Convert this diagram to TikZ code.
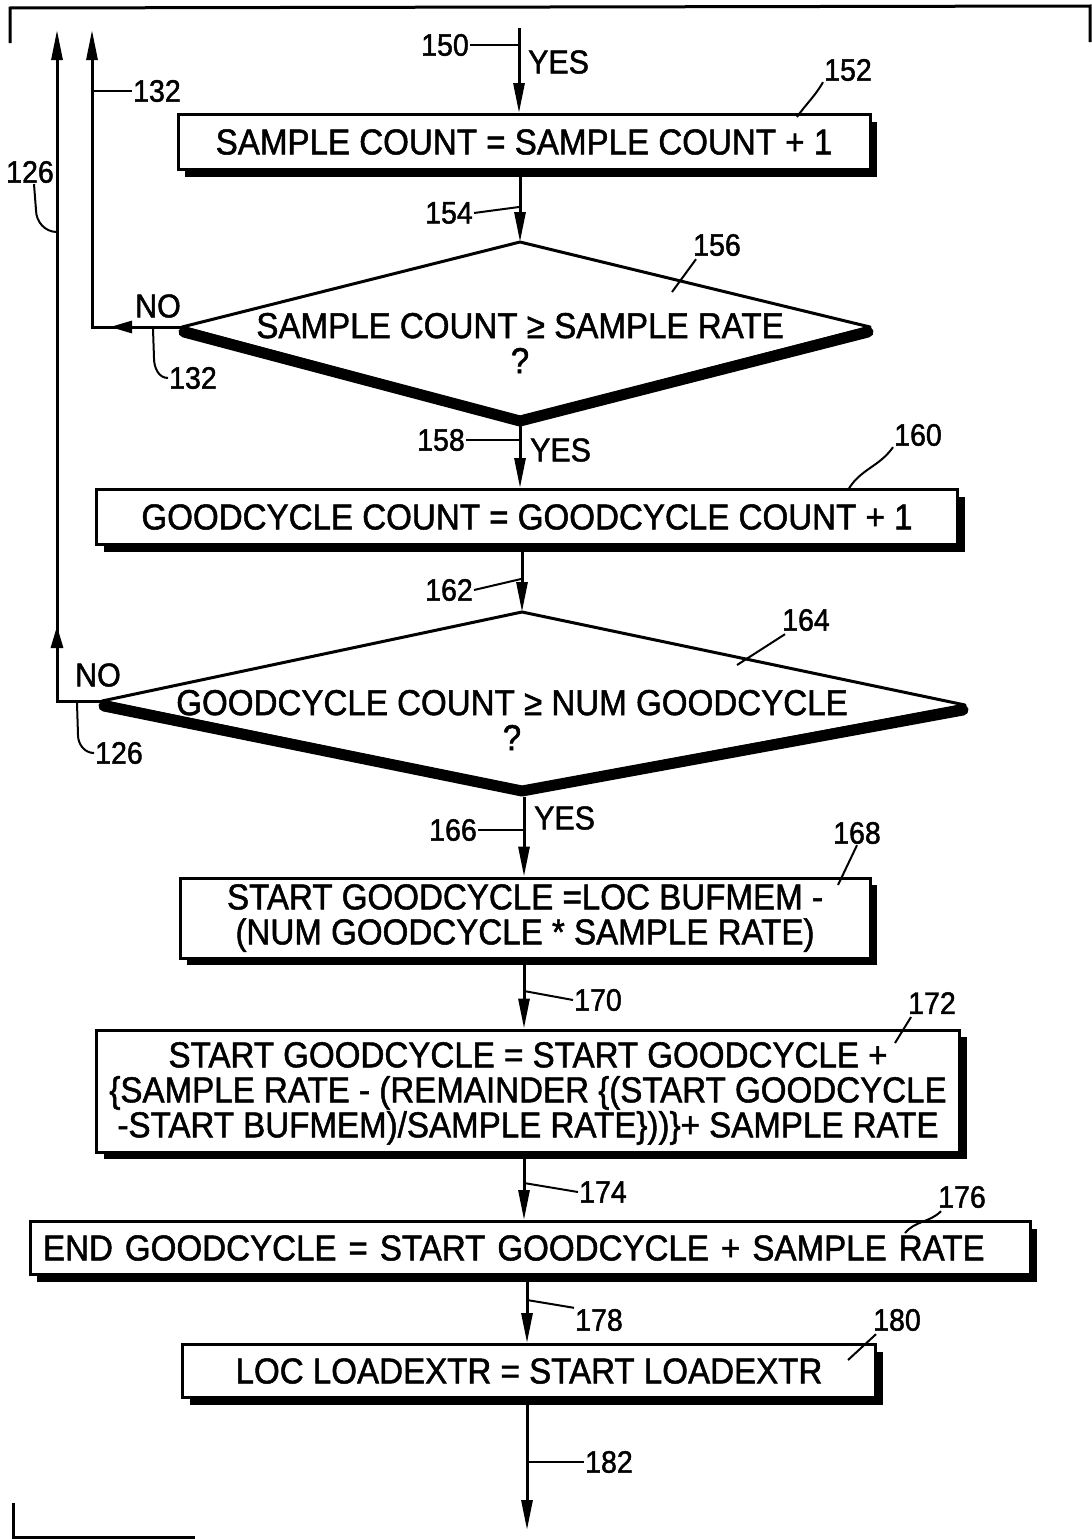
\documentclass[tikz,border=0pt]{standalone}
\usepackage{fontspec}
\setmainfont{Liberation Sans}[FakeStretch=0.92, FakeBold=1.4]
\usetikzlibrary{arrows.meta,shadows,calc}
\begin{document}
\begin{tikzpicture}[x=1pt,y=-1pt,
  flow/.style={line width=3pt, -{Triangle[length=30pt,width=11pt]}},
  shorttip/.style={line width=3pt, -{Triangle[length=22pt,width=12pt]}},
  ln/.style={line width=3pt, line join=miter},
  lead/.style={line width=2pt},
  box/.style={draw, line width=3pt, fill=white, inner sep=0pt, align=center,
    font=\fontsize{36}{35}\selectfont,
    drop shadow={shadow xshift=7pt, shadow yshift=-7pt, fill=black, opacity=1}},
  refnum/.style={font=\fontsize{31}{33}\selectfont, inner sep=1pt},
  lbl/.style={font=\fontsize{33}{35}\selectfont, inner sep=1pt},
  dtext/.style={font=\fontsize{36}{35}\selectfont, align=center, inner sep=0pt},
  thin/.style={line width=3pt, line join=round},
  thick/.style={line width=11pt, line join=round, line cap=round},
]
\useasboundingbox (0,0) rectangle (1092,1539);

% frame fragments
\draw[ln] (10,43) -- (10,8) -- (1090,6) -- (1090,42);
\draw[ln] (13,1503) -- (13,1537) -- (195,1537);

% ---------- boxes ----------
\node[box, minimum width=692pt, minimum height=55pt] (b152) at (524,142)
  {SAMPLE COUNT = SAMPLE COUNT + 1};
\node[box, minimum width=861pt, minimum height=55pt] (b160) at (527,517)
  {GOODCYCLE COUNT = GOODCYCLE COUNT + 1};
\node[box, minimum width=690pt, minimum height=80pt] (b168) at (525,918)
  {START GOODCYCLE =LOC BUFMEM -\\(NUM GOODCYCLE * SAMPLE RATE)};
\node[box, minimum width=863pt, minimum height=122pt] (b172) at (528,1091)
  {\rule{0pt}{30pt}START GOODCYCLE = START GOODCYCLE +\\\{SAMPLE RATE - (REMAINDER \{(START GOODCYCLE\\-START BUFMEM)/SAMPLE RATE\}))\}+ SAMPLE RATE};
\node[box, minimum width=1000pt, minimum height=53pt, text width=990pt, align=left] (b176) at (530,1248)
  {\hspace*{8pt}END GOODCYCLE = START GOODCYCLE + SAMPLE RATE};
\node[box, minimum width=693pt, minimum height=53pt] (b180) at (529,1371)
  {LOC LOADEXTR = START LOADEXTR};

% ---------- diamond 156 ----------
\coordinate (d1top) at (520,242);
\coordinate (d1left) at (182,327);
\coordinate (d1right) at (870,327);
\coordinate (d1bot) at (520,418);
\draw[thick] ($(d1left)+(2,5)$) -- ($(d1bot)+(0,3)$) -- ($(d1right)+(-2,5)$);
\draw[thin] (d1left) -- (d1top) -- (d1right) -- (d1bot) -- cycle;
\node[dtext] (t156) at (520,343) {SAMPLE COUNT ≥ SAMPLE RATE\\?};

% ---------- diamond 164 ----------
\coordinate (d2top) at (522,612);
\coordinate (d2left) at (102,701);
\coordinate (d2right) at (965,705);
\coordinate (d2bot) at (522,788);
\draw[thick] ($(d2left)+(2,5)$) -- ($(d2bot)+(0,3)$) -- ($(d2right)+(-2,5)$);
\draw[thin] (d2left) -- (d2top) -- (d2right) -- (d2bot) -- cycle;
\node[dtext] (t164) at (512,720) {GOODCYCLE COUNT ≥ NUM GOODCYCLE\\?};

% ---------- main flow ----------
\coordinate (in150) at (519,28);
\draw[flow] (in150) -- (in150 |- b152.north);
\draw[flow] (d1top |- b152.south) -- (d1top);
\draw[flow] ($(d1bot)+(0,7)$) -- (d1bot |- b160.north);
\draw[flow] (d2top |- b160.south) -- (d2top);
\coordinate (x166) at (524,790);
\draw[flow] ($(x166)+(0,7)$) -- (x166 |- b168.north);
\draw[flow] (x166 |- b168.south) -- (x166 |- b172.north);
\draw[flow] (x166 |- b172.south) -- (x166 |- b176.north);
\coordinate (x178) at (527,1290);
\draw[flow] (x178 |- b176.south) -- (x178 |- b180.north);
\coordinate (out182) at (527,1530);
\draw[flow] (x178 |- b180.south) -- (out182);

% ---------- NO branches ----------
\coordinate (c132corner) at (92,327);
\coordinate (c132top) at (92,30);
\draw[shorttip] (d1left) -- (110,327);
\draw[flow] (d1left) -- (c132corner) -- (c132top);
\coordinate (c126corner) at (57,701);
\coordinate (c126top) at (57,30);
\draw[flow] (d2left) -- (c126corner) -- (c126top);
\draw[shorttip] (c126corner) -- (57,626);

% ---------- labels ----------
\node[lbl, anchor=west] (yes150) at (527,62) {YES};
\node[lbl, anchor=west] (yes158) at (529,450) {YES};
\node[lbl, anchor=west] (yes166) at (533,818) {YES};
\node[lbl] (no156) at (158,306) {NO};
\node[lbl] (no164) at (98,675) {NO};

\node[refnum, anchor=east] (r150) at (470,45) {150};
\draw[lead] (r150.east) -- (in150 |- r150.east);

\node[refnum] (r152) at (848,70) {152};
\coordinate (c152) at (797,117);
\draw[lead] (r152.south west) to[out=240,in=55] (c152);

\node[refnum, anchor=east] (r154) at (474,213) {154};
\draw[lead] (r154.east) -- (519,207);

\node[refnum] (r156) at (717,245) {156};
\coordinate (c156) at (672,292);
\draw[lead] ($(r156.south west)+(4,2)$) -- (c156);

\node[refnum, anchor=west] (r132a) at (132,91) {132};
\draw[lead] (r132a.west) -- (c132top |- r132a.west);

\coordinate (c132b) at (153,329);
\node[refnum, anchor=west] (r132b) at (168,378) {132};
\draw[lead] (c132b) -- (154,358) to[out=270,in=180] (r132b.west);

\node[refnum, anchor=east] (r158) at (466,440) {158};
\draw[lead] (r158.east) -- (d1bot |- r158.east);

\node[refnum] (r160) at (918,435) {160};
\coordinate (c160) at (848,490);
\draw[lead] (r160.south west) to[out=235,in=60] (c160);

\node[refnum, anchor=east] (r162) at (474,590) {162};
\draw[lead] (r162.east) -- (521,579);

\node[refnum] (r164) at (806,620) {164};
\coordinate (c164) at (737,665);
\draw[lead] ($(r164.south west)+(4,2)$) -- (c164);

\coordinate (c126a) at (57,232);
\node[refnum] (r126a) at (30,172) {126};
\draw[lead] ($(r126a.south)+(4,0)$) -- (36,210) to[out=270,in=180] (c126a);

\coordinate (c126b) at (77,703);
\node[refnum, anchor=west] (r126b) at (94,753) {126};
\draw[lead] (c126b) -- (78,735) to[out=270,in=180] (r126b.west);

\node[refnum, anchor=east] (r166) at (478,830) {166};
\draw[lead] (r166.east) -- (x166 |- r166.east);

\node[refnum] (r168) at (857,833) {168};
\coordinate (c168) at (838,885);
\draw[lead] (r168.south) -- (c168);

\node[refnum, anchor=west] (r170) at (573,1000) {170};
\draw[lead] (x166 |- 0,991) -- (r170.west);

\node[refnum] (r172) at (932,1003) {172};
\coordinate (c172) at (895,1043);
\draw[lead] ($(r172.south west)+(4,2)$) -- (c172);

\node[refnum, anchor=west] (r174) at (578,1192) {174};
\draw[lead] (x166 |- 0,1183) -- (r174.west);

\node[refnum] (r176) at (962,1197) {176};
\coordinate (c176) at (905,1233);
\draw[lead] ($(r176.south west)+(4,2)$) to[out=225,in=50] (c176);

\node[refnum, anchor=west] (r178) at (574,1320) {178};
\draw[lead] (x178 |- 0,1300) -- (r178.north west);

\node[refnum] (r180) at (897,1320) {180};
\coordinate (c180) at (848,1360);
\draw[lead] ($(r180.south west)+(4,2)$) -- (c180);

\node[refnum, anchor=west] (r182) at (584,1462) {182};
\draw[lead] (x178 |- r182.west) -- (r182.west);

\end{tikzpicture}
\end{document}
